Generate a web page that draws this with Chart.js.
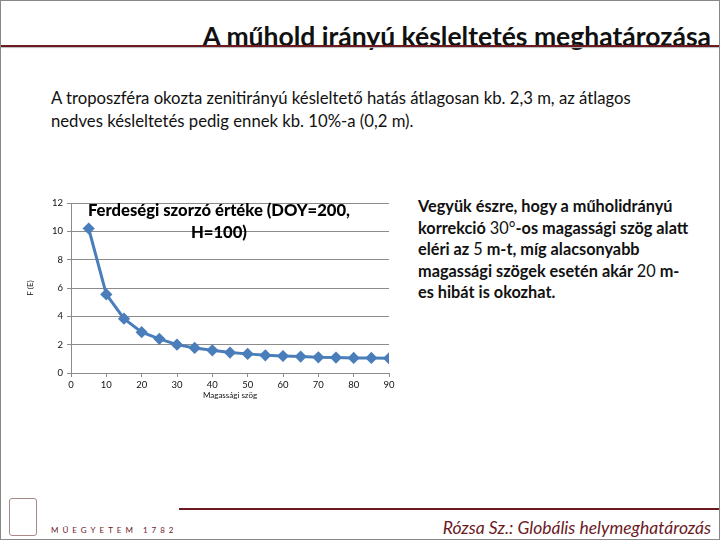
<!DOCTYPE html>
<html>
<head>
<meta charset="utf-8">
<script src="https://cdn.jsdelivr.net/npm/chart.js@4/dist/chart.umd.min.js"></script>
<style>
  html, body { margin: 0; padding: 0; background: #fff; }
  #slide { position: relative; width: 718px; height: 538px; border: 1px solid #888; overflow: hidden; font-family: Lato, "Open Sans", sans-serif; }
  .abs { position: absolute; white-space: nowrap; }
  #title { right: 8px; top: 19px; font-size: 26.5px; font-weight: 700; color: #111; }
  #titleLine { left: 0; top: 44px; width: 718px; height: 2px; background: #6b1a1f; box-shadow: 0 1px 1px #bbb; }
  #intro { left: 50px; top: 86px; font-size: 16.7px; line-height: 23px; color: #111; }
  #note { left: 417px; top: 194px; font-size: 16.3px; line-height: 21.5px; font-weight: 700; color: #111; }
  #note span { font-weight: 400; }
  #chartTitle { left: 78px; top: 198px; width: 280px; text-align: center; font-size: 16.6px; line-height: 22px; font-weight: 900; color: #000; white-space: normal; }
  #chartBox { position: absolute; left: 20px; top: 190px; width: 380px; height: 220px; }
  #footLine { left: 178px; top: 507px; width: 540px; height: 2px; background: #6b1a1f; }
  #footText { right: 8px; top: 516px; font-size: 17.5px; font-style: italic; color: #6b1a1f; }
  #muegy { left: 50px; top: 524px; font-size: 8px; letter-spacing: 4px; color: #6b1a1f; }
  #logo { left: 8px; top: 497px; width: 26px; height: 36px; border: 1px solid #a88; border-radius: 3px; }
</style>
</head>
<body>
<div id="slide">
  <div id="title" class="abs">A műhold irányú késleltetés meghatározása</div>
  <div id="titleLine" class="abs"></div>
  <div id="intro" class="abs">A troposzféra okozta zenitirányú késleltető hatás átlagosan kb. 2,3 m, az átlagos<br>nedves késleltetés pedig ennek kb. 10%-a (0,2 m).</div>
  <div id="note" class="abs">Vegyük észre, hogy a műholidrányú<br>korrekció <span>30°</span>-os magassági szög alatt<br>eléri az <span>5</span> m-t, míg alacsonyabb<br>magassági szögek esetén akár <span>20</span> m-<br>es hibát is okozhat.</div>
  <div id="chartBox"><canvas id="chart"></canvas></div>
  <div id="chartTitle" class="abs">Ferdeségi szorzó értéke (DOY=200, H=100)</div>
  <div id="logo" class="abs"></div>
  <div id="muegy" class="abs">MŰEGYETEM 1782</div>
  <div id="footLine" class="abs"></div>
  <div id="footText" class="abs">Rózsa Sz.: Globális helymeghatározás</div>
</div>
<script>
// elevation angle (degrees) and slant factor
const elevations = [5, 10, 15, 20, 25, 30, 35, 40, 45, 50, 55, 60, 65, 70, 75, 80, 85, 90];
const slantFactor = [10.2, 5.55, 3.83, 2.88, 2.41, 2.0, 1.77, 1.6, 1.44, 1.35, 1.25, 1.2, 1.16, 1.11, 1.09, 1.06, 1.06, 1.04];
const xTicks = [0, 10, 20, 30, 40, 50, 60, 70, 80, 90];
const yTicks = [0, 2, 4, 6, 8, 10, 12];

const points = elevations.map((e, i) => ({ x: e, y: slantFactor[i] }));
const lineColor = '#4a7ebb';
const gridColor = '#8c8c8c';
const tickFont = { family: 'Lato, sans-serif', size: 9.5 };

new Chart(document.getElementById('chart'), {
    type: 'line',
    data: {
        datasets: [{
            data: points,
            borderColor: lineColor,
            backgroundColor: lineColor,
            borderWidth: 3,
            pointStyle: 'rectRot',
            pointRadius: 4,
            pointHoverRadius: 4,
            tension: 0
        }]
    },
    options: {
        responsive: true,
        maintainAspectRatio: false,
        animation: false,
        layout: { padding: { top: 12, right: 12, left: 5, bottom: 11 } },
        plugins: { legend: { display: false }, tooltip: { enabled: false } },
        scales: {
            x: {
                type: 'linear',
                min: 0,
                max: 90,
                afterBuildTicks: scale => { scale.ticks = xTicks.map(v => ({ value: v })); },
                afterFit: scale => { scale.height = 27; },
                grid: { drawOnChartArea: false, drawTicks: true, tickLength: 4, color: gridColor },
                border: { color: gridColor, width: 1 },
                ticks: { font: tickFont, color: '#111', padding: 2, maxRotation: 0 },
                title: { display: true, text: 'Magassági szög', font: { family: 'Lato, sans-serif', size: 8 }, color: '#111', padding: { top: 1, bottom: 0 } }
            },
            y: {
                min: 0,
                max: 12,
                afterBuildTicks: scale => { scale.ticks = yTicks.map(v => ({ value: v })); },
                afterFit: scale => { scale.width = 45; },
                grid: { color: gridColor, lineWidth: 1, tickLength: 4 },
                border: { color: gridColor, width: 1 },
                ticks: { font: tickFont, color: '#111', padding: 4 },
                title: { display: true, text: 'F (E)', font: { family: 'Lato, sans-serif', size: 8 }, color: '#111', padding: 0 }
            }
        }
    }
});
</script>
</body>
</html>
